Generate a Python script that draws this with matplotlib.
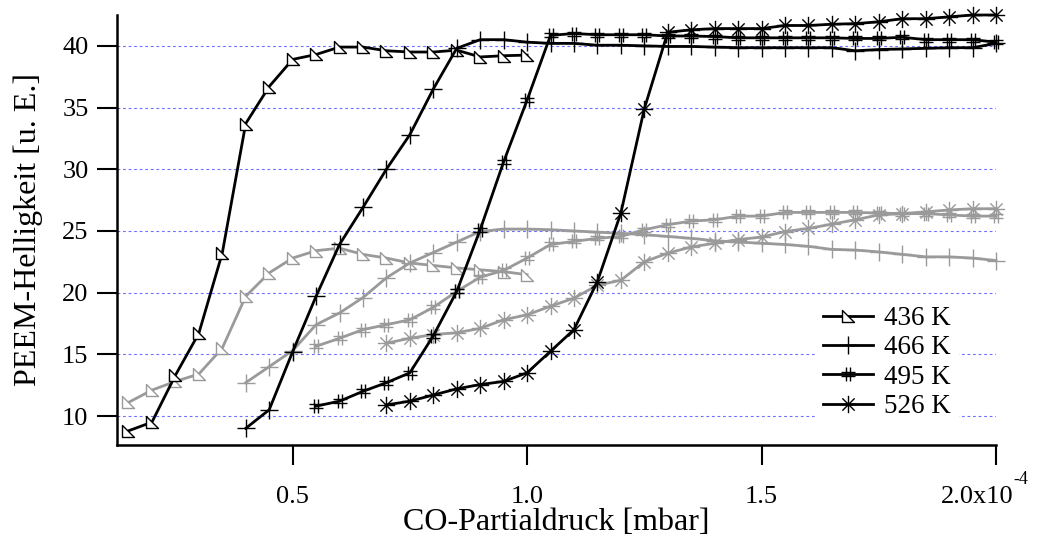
import numpy as np
import matplotlib
matplotlib.use("Agg")
import matplotlib.pyplot as plt
from matplotlib.path import Path

plt.rcParams['font.family'] = ['Liberation Serif', 'DejaVu Serif']

# ---- data (x in units of 1e-4 mbar) ----
x436 = [0.15, 0.20, 0.25, 0.30, 0.35, 0.40, 0.45, 0.50, 0.55, 0.60, 0.65, 0.70,
        0.75, 0.80, 0.85, 0.90, 0.95, 1.00]
y436_up = [8.8, 9.5, 13.3, 16.7, 23.2, 33.7, 36.7, 38.9, 39.3, 39.9, 39.9, 39.6,
           39.5, 39.5, 39.65, 39.1, 39.2, 39.25]
y436_down = [11.1, 12.1, 12.8, 13.4, 15.5, 19.7, 21.6, 22.8, 23.4, 23.6, 23.1, 22.8,
             22.4, 22.2, 22.0, 21.85, 21.7, 21.45]

x466 = [0.40, 0.45, 0.50, 0.55, 0.60, 0.65, 0.70, 0.75, 0.80, 0.85, 0.90, 0.95,
        1.00, 1.05, 1.10, 1.15, 1.20, 1.25, 1.30, 1.35, 1.40, 1.45, 1.50, 1.55,
        1.60, 1.65, 1.70, 1.75, 1.80, 1.85, 1.90, 1.95, 2.00]
y466_up = [9.0, 10.5, 15.2, 19.7, 23.9, 26.9, 30.0, 32.8, 36.5, 39.8, 40.5, 40.5,
           40.3, 40.2, 40.2, 40.05, 40.05, 40.0, 39.95, 39.95, 39.9, 39.85, 39.85, 39.85,
           39.85, 39.85, 39.6, 39.7, 39.75, 39.8, 39.85, 39.85, 40.2]
y466_down = [12.7, 14.0, 15.3, 17.4, 18.35, 19.6, 21.2, 22.4, 23.25, 24.1, 24.95, 25.15,
             25.15, 25.1, 25.0, 24.9, 24.8, 24.7, 24.55, 24.4, 24.2, 24.1, 24.0, 23.9,
             23.75, 23.5, 23.45, 23.3, 23.1, 22.9, 22.9, 22.8, 22.6]

x495 = [0.55, 0.60, 0.65, 0.70, 0.75, 0.80, 0.85, 0.90, 0.95, 1.00, 1.05, 1.10,
        1.15, 1.20, 1.25, 1.30, 1.35, 1.40, 1.45, 1.50, 1.55, 1.60, 1.65, 1.70,
        1.75, 1.80, 1.85, 1.90, 1.95, 2.00]
y495_up = [10.8, 11.2, 12.0, 12.7, 13.5, 16.5, 20.1, 25.1, 30.6, 35.6, 40.85, 41.0,
           40.9, 40.9, 40.9, 40.8, 40.8, 40.75, 40.65, 40.65, 40.65, 40.65, 40.65, 40.6,
           40.6, 40.7, 40.5, 40.5, 40.5, 40.3]
y495_down = [15.65, 16.3, 17.0, 17.4, 17.8, 18.8, 20.1, 21.25, 21.8, 22.8, 23.9, 24.15,
             24.4, 24.55, 25.1, 25.5, 25.8, 25.9, 26.2, 26.2, 26.5, 26.5, 26.5, 26.5,
             26.45, 26.4, 26.4, 26.3, 26.2, 26.2]

x526 = [0.70, 0.75, 0.80, 0.85, 0.90, 0.95, 1.00, 1.05, 1.10, 1.15, 1.20, 1.25,
        1.30, 1.35, 1.40, 1.45, 1.50, 1.55, 1.60, 1.65, 1.70, 1.75, 1.80, 1.85,
        1.90, 1.95, 2.00]
y526_up = [10.9, 11.2, 11.7, 12.2, 12.55, 12.8, 13.5, 15.25, 17.0, 20.9, 26.45, 34.9,
           41.1, 41.3, 41.4, 41.4, 41.4, 41.65, 41.65, 41.75, 41.8, 41.95, 42.2, 42.2,
           42.35, 42.5, 42.5]
y526_down = [15.9, 16.3, 16.6, 16.75, 17.1, 17.8, 18.2, 18.9, 19.55, 20.6, 21.0, 22.5,
             23.2, 23.7, 24.0, 24.3, 24.5, 24.95, 25.2, 25.55, 25.9, 26.3, 26.4, 26.55,
             26.7, 26.8, 26.8]

labels = ['436 K', '466 K', '495 K', '526 K']
xticks = [0.5, 1.0, 1.5, 2.0]
xticklabels = ['0.5', '1.0', '1.5', '']
last_label = '2.0x10'
x_exponent = '-4'
yticks = [10, 15, 20, 25, 30, 35, 40]

# ---- markers ----
tri = Path([(-1, 1), (-1, -1), (1, -1), (-1, 1)],
           [Path.MOVETO, Path.LINETO, Path.LINETO, Path.CLOSEPOLY])
h = 0.33
hashm = Path([(-h, -1), (-h, 1), (h, -1), (h, 1), (-1, -h), (1, -h), (-1, h), (1, h)],
             [Path.MOVETO, Path.LINETO] * 4)
d = 0.7071
starm = Path([(0, -1), (0, 1), (-1, 0), (1, 0), (-d, -d), (d, d), (-d, d), (d, -d)],
             [Path.MOVETO, Path.LINETO] * 4)

styles = [
    dict(marker=tri, ms=8.5, mfc='white'),
    dict(marker='+', ms=12.5),
    dict(marker=hashm, ms=10.5),
    dict(marker=starm, ms=12.5),
]

fig = plt.figure(figsize=(10.42, 5.39), dpi=100)
ax = fig.add_axes([117 / 1042, 1 - 445 / 539, (996 - 117) / 1042, (445 - 15) / 539])

grey = '#9a9a9a'
xs = [x436, x466, x495, x526]
ups = [y436_up, y466_up, y495_up, y526_up]
downs = [y436_down, y466_down, y495_down, y526_down]

for x, y, st in zip(xs, downs, styles):
    ax.plot(x, y, color=grey, lw=2.0, mec=grey, mew=1.0, clip_on=False, zorder=3, **st)

handles = []
for x, y, st, lab in zip(xs, ups, styles, labels):
    ln, = ax.plot(x, y, color='black', lw=2.0, mec='black', mew=1.0, clip_on=False,
                  zorder=4, label=lab, **st)
    handles.append(ln)

ax.set_xlim(0.1255, 2.0)
ax.set_ylim(7.65, 42.5)
ax.set_xticks(xticks)
ax.set_xticklabels(xticklabels)
ax.set_yticks(yticks)

for s in ['top', 'right']:
    ax.spines[s].set_visible(False)
for s in ['left', 'bottom']:
    ax.spines[s].set_linewidth(1.8)

ax.tick_params(axis='both', which='major', direction='out', length=14.5, width=1.5,
               labelsize=19, colors='black')
ax.tick_params(axis='y', pad=6)
ax.tick_params(axis='x', pad=15)

# last x tick label with its exponent, together centred on the tick
ax.annotate(last_label, xy=(xticks[-1], 0), xycoords=('data', 'axes fraction'),
            xytext=(-19, -41), textcoords='offset pixels', fontsize=19,
            ha='center', va='top', annotation_clip=False)
ax.annotate(x_exponent, xy=(xticks[-1], 0), xycoords=('data', 'axes fraction'),
            xytext=(17, -35), textcoords='offset pixels', fontsize=13,
            ha='left', va='center', annotation_clip=False)

ax.yaxis.grid(True, color='#6f6fff', linestyle=(0, (2.5, 2.5)), linewidth=0.8)
ax.set_axisbelow(True)

ax.set_xlabel('CO-Partialdruck [mbar]', fontsize=23, labelpad=0)
ax.set_ylabel('PEEM-Helligkeit [u. E.]', fontsize=23, labelpad=14)

leg = ax.legend(handles=handles, loc='upper left',
                bbox_to_anchor=((815 - 117) / (996 - 117), (445 - 298) / (445 - 15)),
                frameon=True, fontsize=19.5, handlelength=1.85, handletextpad=0.4,
                labelspacing=0.16, borderpad=0.3, borderaxespad=0.0, fancybox=False)
leg.get_frame().set_edgecolor('none')
leg.get_frame().set_facecolor('white')
leg.get_frame().set_alpha(1.0)

fig.savefig('out.png', dpi=100)
